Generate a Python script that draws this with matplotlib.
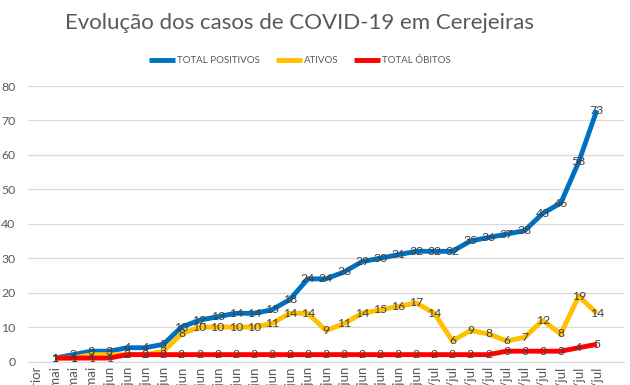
import numpy as np
import matplotlib.pyplot as plt

# Category labels (first one has no data)
labels = ["Anterior", "27/mai", "29/mai", "31/mai",
          "02/jun", "04/jun", "06/jun", "08/jun", "10/jun", "12/jun", "14/jun",
          "15/jun", "16/jun", "18/jun", "19/jun", "20/jun", "22/jun", "24/jun",
          "25/jun", "26/jun", "28/jun", "30/jun",
          "01/jul", "02/jul", "03/jul", "06/jul", "07/jul", "08/jul", "09/jul",
          "10/jul", "13/jul", "14/jul"]

positivos = [1, 2, 3, 3, 4, 4, 5, 10, 12, 13, 14, 14, 15, 18, 24, 24, 26, 29,
             30, 31, 32, 32, 32, 35, 36, 37, 38, 43, 46, 58, 73]
ativos = [1, 1, 2, 2, 2, 2, 3, 8, 10, 10, 10, 10, 11, 14, 14, 9, 11, 14,
          15, 16, 17, 14, 6, 9, 8, 6, 7, 12, 8, 19, 14]
obitos = [1, 1, 1, 1, 2, 2, 2, 2, 2, 2, 2, 2, 2, 2, 2, 2, 2, 2,
          2, 2, 2, 2, 2, 2, 2, 3, 3, 3, 3, 4, 5]

series = [("TOTAL POSITIVOS", positivos, "#0070C0"),
          ("ATIVOS", ativos, "#FFC000"),
          ("TOTAL ÓBITOS", obitos, "#FF0000")]

plt.rcParams['font.family'] = ['Lato', 'DejaVu Sans']

fig = plt.figure(figsize=(6.3, 3.85), dpi=100)
ax = fig.add_axes([0.0444, 0.061, 0.946, 0.7156])

x = np.arange(1, len(positivos) + 1)
for name, vals, color in series:
    ax.plot(x, vals, color=color, lw=3.5, label=name, solid_capstyle='butt',
            solid_joinstyle='round')

# data labels on top of the lines
for name, vals, color in series:
    for xi, v in zip(x, vals):
        ax.text(xi, v, str(v), ha='center', va='center', fontsize=8.8,
                color='#404040', zorder=5)

ax.set_xlim(-0.5, 32.5)
ax.set_ylim(0, 80)
ax.set_yticks(range(0, 81, 10))
ax.set_xticks(range(len(labels)))
ax.set_xticklabels(labels, rotation=90, fontsize=9.5, color='#595959')
ax.tick_params(axis='y', length=0, labelsize=8.8, labelcolor='#595959', pad=9)
ax.tick_params(axis='x', length=0, pad=3)
ax.grid(axis='y', color='#D9D9D9', lw=0.9)
ax.set_axisbelow(True)
for s in ['top', 'right', 'left']:
    ax.spines[s].set_visible(False)
ax.spines['bottom'].set_color('#D9D9D9')

fig.suptitle("Evolução dos casos de COVID-19 em Cerejeiras", fontsize=16,
             color='#595959', x=0.475, y=0.965)
fig.legend(loc='center', bbox_to_anchor=(0.476, 0.843), ncol=3, frameon=False,
           fontsize=7, handlelength=2.7, handletextpad=0.2, columnspacing=1.6,
           labelcolor='#595959')

plt.savefig("out.png", dpi=100)
